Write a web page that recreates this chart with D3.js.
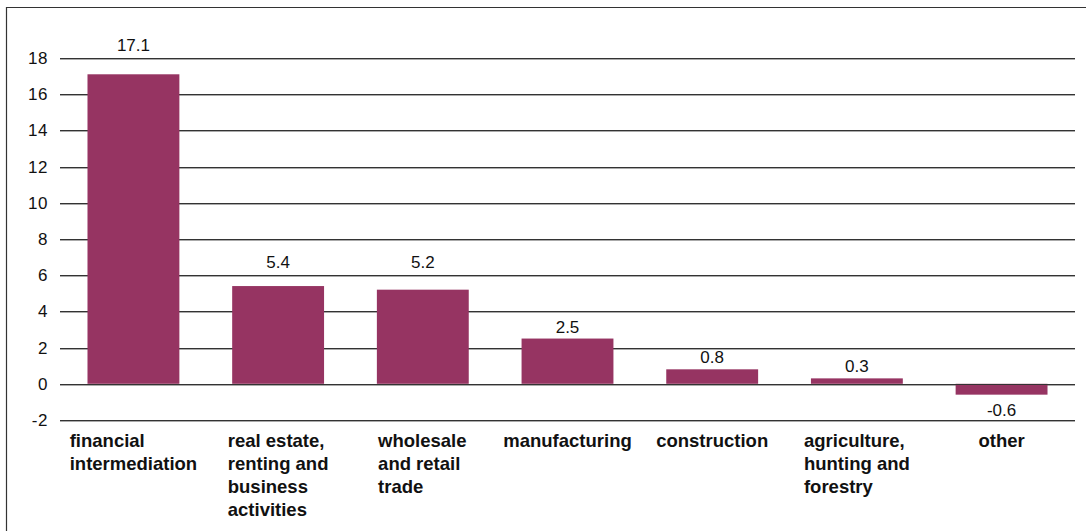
<!DOCTYPE html>
<html>
<head>
<meta charset="utf-8">
<script src="https://cdn.jsdelivr.net/npm/d3@7"></script>
<style>
  html, body { margin: 0; padding: 0; background: #fff; }
  svg { display: block; font-family: "Liberation Sans", Arial, Helvetica, sans-serif; }
</style>
</head>
<body>
<svg id="chart" width="1089" height="531"></svg>
<script>
// Sector contributions
const categories = [
  ["financial", "intermediation"],
  ["real estate,", "renting and", "business", "activities"],
  ["wholesale", "and retail", "trade"],
  ["manufacturing"],
  ["construction"],
  ["agriculture,", "hunting and", "forestry"],
  ["other"]
];
const values = [17.1, 5.4, 5.2, 2.5, 0.8, 0.3, -0.6];
const valueLabels = ["17.1", "5.4", "5.2", "2.5", "0.8", "0.3", "-0.6"];
const yTicks = [-2, 0, 2, 4, 6, 8, 10, 12, 14, 16, 18];

const svg = d3.select("#chart");
const W = 1089, H = 531;
const plot = { left: 60, right: 1075, top: 58, bottom: 420 };
const barColor = "#963462";

// Frame: left and top rules
svg.append("line").attr("x1", 6.5).attr("x2", 6.5).attr("y1", 7).attr("y2", H)
  .attr("stroke", "#333").attr("stroke-width", 1.2);
svg.append("line").attr("x1", 6).attr("x2", 1086).attr("y1", 7.5).attr("y2", 7.5)
  .attr("stroke", "#333").attr("stroke-width", 1.2);

const x = d3.scaleBand()
  .domain(d3.range(categories.length))
  .range([plot.left, plot.right])
  .paddingInner(0.365)
  .paddingOuter(0.19);

const y = d3.scaleLinear().domain([-2, 18]).range([plot.bottom, plot.top]);

// Gridlines with y-axis tick labels
const yAxis = d3.axisLeft(y).tickValues(yTicks).tickSize(0).tickPadding(12)
  .tickFormat(d => String(d));
const gy = svg.append("g").attr("transform", `translate(${plot.left},0)`).call(yAxis);
gy.select(".domain").remove();
gy.selectAll("text").attr("font-size", 17).attr("fill", "#111")
  .attr("letter-spacing", 0.6)
  .attr("font-family", "Liberation Sans, Arial, sans-serif");

const grid = svg.append("g");
grid.selectAll("line.g").data(yTicks).join("line")
  .attr("class", "g")
  .attr("x1", plot.left).attr("x2", plot.right)
  .attr("y1", d => Math.round(y(d)) + 0.5).attr("y2", d => Math.round(y(d)) + 0.5)
  .attr("stroke", "#333").attr("stroke-width", 1);
grid.selectAll("line.s").data(yTicks).join("line")
  .attr("class", "s")
  .attr("x1", plot.left).attr("x2", plot.right)
  .attr("y1", d => Math.round(y(d)) + 1.5).attr("y2", d => Math.round(y(d)) + 1.5)
  .attr("stroke", "#aaa").attr("stroke-width", 1);

// Bars
svg.append("g").selectAll("rect").data(values).join("rect")
  .attr("x", (d, i) => x(i))
  .attr("width", x.bandwidth())
  .attr("y", d => y(Math.max(0, d)))
  .attr("height", d => Math.abs(y(d) - y(0)))
  .attr("fill", barColor);

// Zero baseline over the bars
svg.append("line")
  .attr("x1", plot.left).attr("x2", plot.right)
  .attr("y1", Math.round(y(0)) + 0.5).attr("y2", Math.round(y(0)) + 0.5)
  .attr("stroke", "#333").attr("stroke-width", 1);

// Value labels: sit just above the bar, lifted clear of any gridline they would cross
const gridYs = yTicks.map(t => y(t));
function labelBaseline(v) {
  if (v < 0) return y(v) + 21;
  let b = y(v) - 6;
  const hit = gridYs.find(g => g > b - 13 && g < b + 1);
  if (hit !== undefined) b = hit - 7;
  return b;
}
svg.append("g").selectAll("text").data(values).join("text")
  .attr("x", (d, i) => x(i) + x.bandwidth() / 2)
  .attr("y", d => labelBaseline(d))
  .attr("text-anchor", "middle")
  .attr("font-size", 17)
  .attr("fill", "#111")
  .text((d, i) => valueLabels[i]);

// Category labels: block centred under each bar, lines left-aligned
const catG = svg.append("g");
categories.forEach((lines, i) => {
  const t = catG.append("text")
    .attr("font-size", 18.5)
    .attr("font-weight", "bold")
    .attr("fill", "#111");
  lines.forEach((ln, k) => {
    t.append("tspan").attr("x", 0).attr("y", 447 + k * 23).text(ln);
  });
  const bw = t.node().getBBox().width;
  const cx = x(i) + x.bandwidth() / 2;
  t.attr("transform", `translate(${cx - bw / 2},0)`);
});
</script>
</body>
</html>
